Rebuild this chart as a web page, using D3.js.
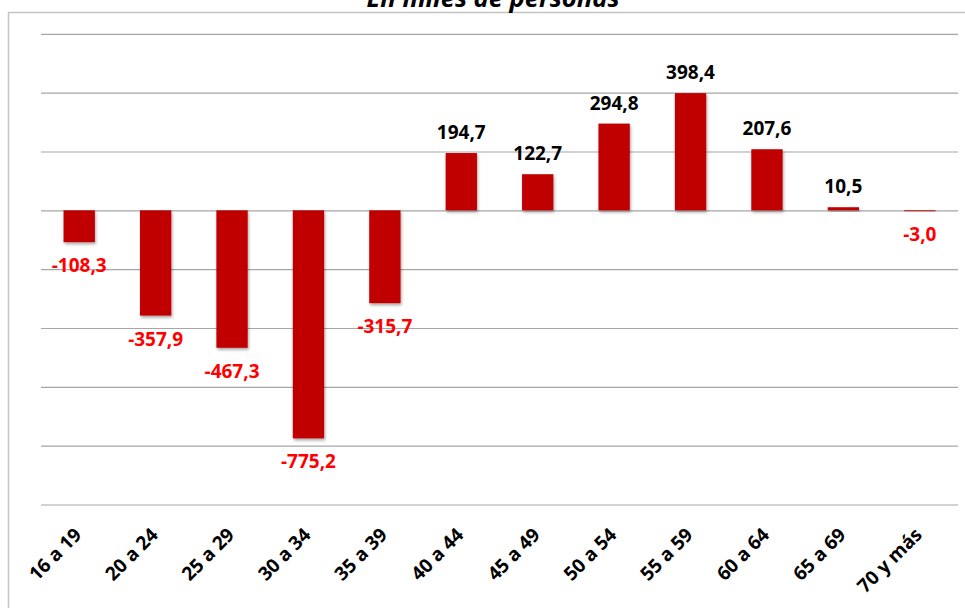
<!DOCTYPE html>
<html>
<head>
<meta charset="utf-8">
<script src="https://cdn.jsdelivr.net/npm/d3@7"></script>
<style>
    body { margin: 0; background: #fff; }
    svg { display: block; }
</style>
</head>
<body>
<svg id="chart" width="965" height="608"></svg>
<script>
let ageGroups = ['16 a 19', '20 a 24', '25 a 29', '30 a 34', '35 a 39', '40 a 44',
    '45 a 49', '50 a 54', '55 a 59', '60 a 64', '65 a 69', '70 y más'];
let changes = [-108.3, -357.9, -467.3, -775.2, -315.7, 194.7, 122.7, 294.8, 398.4, 207.6, 10.5, -3.0];
let gridTicks = [-1000, -800, -600, -400, -200, 0, 200, 400, 600];
let title = 'En miles de personas';

let svg = d3.select('#chart');
let plotLeft = 41, plotRight = 958, plotTop = 33.8, plotBottom = 504.5;
let font = '"Open Sans", Lato, sans-serif';

let x = d3.scaleBand()
    .domain(ageGroups)
    .range([plotLeft, plotRight])
    .paddingInner(0.59)
    .paddingOuter(0.295);

let y = d3.scaleLinear()
    .domain([-1000, 600])
    .range([plotBottom, plotTop]);

let fmt = v => v.toFixed(1).replace('.', ',');

// sombra de las barras
let filter = svg.append('defs').append('filter')
    .attr('id', 'shadow')
    .attr('x', '-30%').attr('y', '-30%')
    .attr('width', '160%').attr('height', '160%');
filter.append('feDropShadow')
    .attr('dx', 1).attr('dy', 2)
    .attr('stdDeviation', 1.6)
    .attr('flood-color', '#000')
    .attr('flood-opacity', 0.35);

// marco del grafico
svg.append('rect')
    .attr('x', 8.5).attr('y', 12.5)
    .attr('width', 1000).attr('height', 700)
    .style('fill', 'none')
    .style('stroke', '#c4c4c4')
    .style('stroke-width', 1.5);

// titulo (cortado arriba, como en el original)
svg.append('text')
    .attr('x', 493).attr('y', 7)
    .attr('text-anchor', 'middle')
    .attr('textLength', 253)
    .attr('lengthAdjust', 'spacingAndGlyphs')
    .style('font-family', font)
    .style('font-weight', 'bold')
    .style('font-style', 'italic')
    .style('font-size', '25px')
    .text(title);

// lineas de division
let grid = svg.append('g')
    .attr('transform', `translate(${plotLeft},0)`)
    .call(d3.axisLeft(y).tickValues(gridTicks).tickSize(-(plotRight - plotLeft)).tickFormat(''));
grid.select('.domain').remove();
grid.selectAll('.tick line')
    .style('stroke', '#a6a6a6')
    .style('stroke-width', 1.2);

svg.append('g')
    .selectAll('rect')
    .data(changes)
    .join('rect')
    .attr('x', (d, i) => x(ageGroups[i]))
    .attr('width', x.bandwidth())
    .attr('y', d => y(Math.max(d, 0)))
    .attr('height', d => Math.abs(y(d) - y(0)))
    .attr('filter', 'url(#shadow)')
    .style('fill', '#C00000');

svg.append('g')
    .selectAll('text')
    .data(changes)
    .join('text')
    .attr('x', (d, i) => x(ageGroups[i]) + x.bandwidth() / 2)
    .attr('y', d => d >= 0 ? y(d) - 14 : y(d) + 30)
    .attr('text-anchor', 'middle')
    .style('font-family', font)
    .style('font-weight', 'bold')
    .style('font-size', '19px')
    .style('fill', d => d >= 0 ? '#000' : '#FF0000')
    .text(d => fmt(d));

svg.append('g')
    .selectAll('text')
    .data(ageGroups)
    .join('text')
    .attr('transform', d => `translate(${x(d) + x.bandwidth() / 2 + 3.5},536) rotate(-45)`)
    .attr('text-anchor', 'end')
    .style('font-family', font)
    .style('font-weight', 'bold')
    .style('font-size', '19px')
    .style('fill', '#000')
    .text(d => d);
</script>
</body>
</html>
